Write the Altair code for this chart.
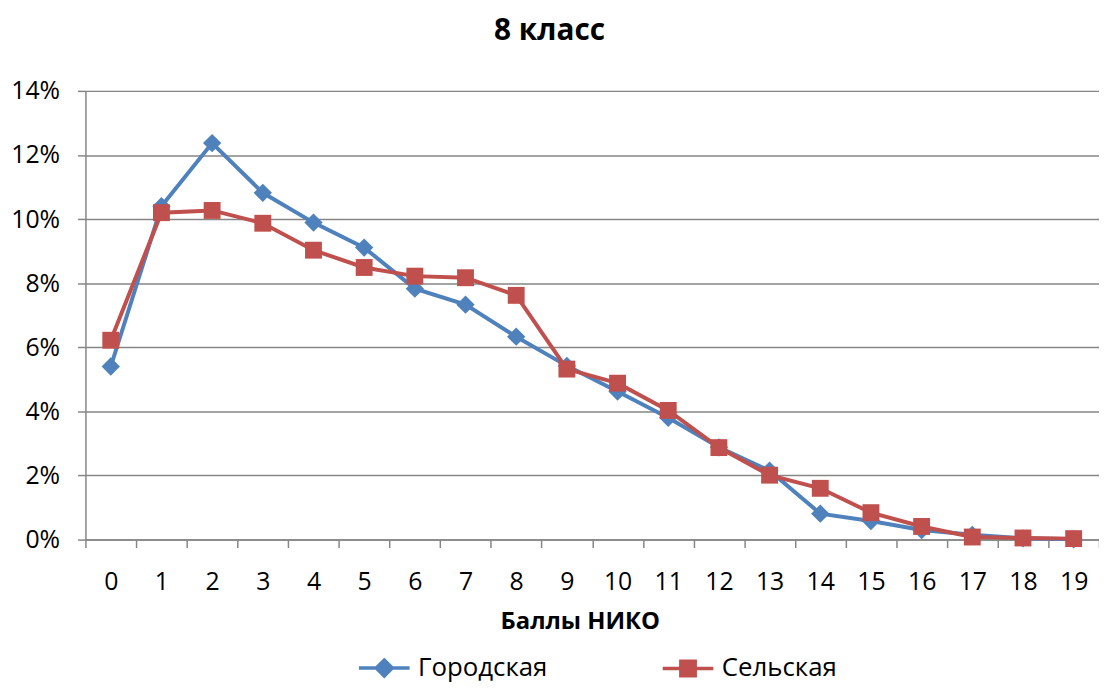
import altair as alt
import pandas as pd

categories = list(range(20))
series_names = ["Городская", "Сельская"]
gorod = [5.40, 10.40, 12.37, 10.82, 9.89, 9.11, 7.83, 7.33, 6.33, 5.42,
         4.62, 3.80, 2.88, 2.15, 0.81, 0.58, 0.30, 0.15, 0.04, 0.01]
selsk = [6.22, 10.20, 10.27, 9.87, 9.03, 8.49, 8.22, 8.17, 7.62, 5.32,
         4.88, 4.03, 2.87, 2.01, 1.60, 0.84, 0.41, 0.08, 0.05, 0.03]
y_ticks = [0, 0.02, 0.04, 0.06, 0.08, 0.10, 0.12, 0.14]

colors = ["#4F81BD", "#C0504D"]
FONT = "Open Sans"
W = 1021

rows = []
for name, vals in zip(series_names, [gorod, selsk]):
    for c, v in zip(categories, vals):
        rows.append({"ball": c, "value": v / 100.0, "series": name})
df = pd.DataFrame(rows)

x_bounds = [c - 0.5 for c in categories] + [categories[-1] + 0.5]
last = categories[-1]

x_enc = alt.X(
    "ball:Q",
    scale=alt.Scale(domain=[x_bounds[0], x_bounds[-1]], nice=False, zero=False),
    axis=alt.Axis(
        values=x_bounds,
        labelExpr=f"datum.value < {last} ? format(datum.value + 0.5, 'd') : ''",
        labelOffset=W / 40,
        labelFlush=False,
        labelOverlap=False,
        labelFontSize=25,
        labelFont=FONT,
        labelColor="black",
        labelPadding=22,
        tickSize=8,
        tickColor="#868686",
        tickWidth=1.5,
        domainColor="#868686",
        domainWidth=1.5,
        grid=False,
        title="Баллы НИКО",
        titleFont=FONT,
        titleFontSize=24,
        titleFontWeight="bold",
        titleColor="black",
        titleBaseline="middle",
        titleAlign="center",
        titleX=498,
        titleY=83,
    ),
)
y_enc = alt.Y(
    "value:Q",
    scale=alt.Scale(domain=[0, 0.14], nice=False),
    axis=alt.Axis(
        values=y_ticks,
        format=".0%",
        labelFontSize=25,
        labelFont=FONT,
        labelColor="black",
        labelPadding=18,
        tickSize=8,
        tickColor="#868686",
        tickWidth=1.5,
        domainColor="#868686",
        domainWidth=1.5,
        grid=True,
        gridColor="#868686",
        gridWidth=1.5,
        title=None,
    ),
)

layers = []
shapes = ["diamond", "square"]
sizes = [340, 289]
for name, col, shp, sz in zip(series_names, colors, shapes, sizes):
    base = alt.Chart(df).transform_filter(alt.datum.series == name)
    layers.append(base.mark_line(strokeWidth=4, color=col).encode(x=x_enc, y=y_enc))
    layers.append(
        base.mark_point(shape=shp, size=sz, filled=True, color=col, opacity=1)
        .encode(x=x_enc, y=y_enc)
    )

legend_paths = [
    "M-3,0L-0.95,0M0,-0.95L0.95,0L0,0.95L-0.95,0ZM0.95,0L3,0",
    "M-3,0L-0.85,0M-0.85,-0.85L0.85,-0.85L0.85,0.85L-0.85,0.85ZM0.85,0L3,0",
]
legend_layer = (
    alt.Chart(df)
    .transform_filter("datum.value < 0")
    .mark_point(strokeWidth=3.5, filled=True)
    .encode(
        x=x_enc,
        y=y_enc,
        fill=alt.Fill("series:N", scale=alt.Scale(domain=series_names, range=colors),
                      legend=alt.Legend(title=None)),
        stroke=alt.Stroke("series:N", scale=alt.Scale(domain=series_names, range=colors),
                          legend=alt.Legend(title=None)),
        shape=alt.Shape("series:N", scale=alt.Scale(domain=series_names, range=legend_paths),
                        legend=alt.Legend(title=None)),
    )
)
layers.append(legend_layer)

chart = (
    alt.layer(*layers)
    .properties(
        width=W,
        height=452,
        autosize=alt.AutoSizeParams(type="none"),
        padding={"left": 78, "top": 81, "right": 0, "bottom": 146},
        title=alt.TitleParams(
            "8 класс",
            font=FONT,
            fontSize=30,
            fontWeight="bold",
            color="black",
            anchor="middle",
            frame="group",
            dx=-43,
            offset=33,
        ),
    )
    .configure_view(stroke=None)
    .configure_legend(
        orient="none",
        legendX=288,
        legendY=568,
        direction="horizontal",
        symbolSize=289,
        symbolStrokeWidth=3.5,
        symbolOpacity=1,
        labelFont=FONT,
        labelFontSize=26,
        labelColor="black",
        labelOffset=21,
        columnPadding=108,
        padding=0,
    )
)

chart.save("out.html", embed_options={"renderer": "svg", "actions": False})
